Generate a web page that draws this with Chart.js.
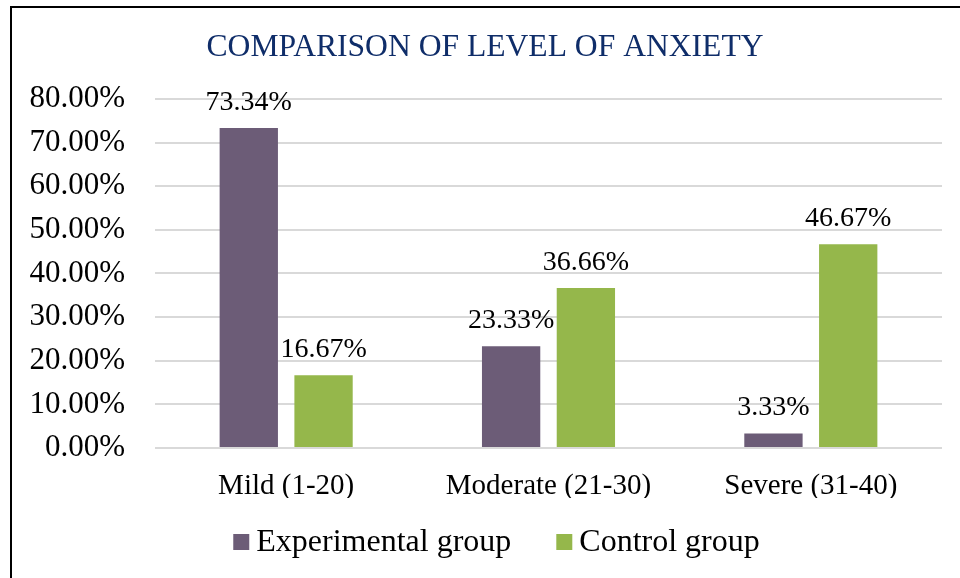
<!DOCTYPE html>
<html>
<head>
<meta charset="utf-8">
<script src="https://cdn.jsdelivr.net/npm/chart.js@4.4.0/dist/chart.umd.min.js"></script>
<style>
    html, body { margin: 0; padding: 0; background: #fff; }
    #frame {
        position: absolute;
        left: 10px; top: 6px;
        width: 950px; height: 572px;
        border-left: 2px solid #000;
        border-top: 2px solid #000;
    }
    #wrap { position: absolute; left: 13px; top: 9px; width: 947px; height: 569px; }
</style>
</head>
<body>
<div id="frame"></div>
<div id="wrap"><canvas id="anxChart"></canvas></div>
<script>
const categories = ["Mild (1-20)", "Moderate (21-30)", "Severe (31-40)"];
const experimentalValues = [73.34, 23.33, 3.33];
const controlValues = [16.67, 36.66, 46.67];
const seriesNames = ["Experimental group", "Control group"];
const chartTitle = "COMPARISON OF LEVEL OF ANXIETY";

const serif = "'Liberation Serif', 'Times New Roman', serif";

// value labels above each bar, placed from the bar elements
const barLabels = {
    id: "barLabels",
    afterDatasetsDraw(chart) {
        const ctx = chart.ctx;
        ctx.save();
        ctx.font = "28px " + serif;
        ctx.fillStyle = "#000";
        ctx.textAlign = "center";
        ctx.textBaseline = "alphabetic";
        chart.data.datasets.forEach(function (ds, i) {
            chart.getDatasetMeta(i).data.forEach(function (bar, j) {
                ctx.fillText(ds.data[j].toFixed(2) + "%", bar.x, bar.y - 18);
            });
        });
        ctx.restore();
    }
};

// legend drawn by hand: small square, short gap, then the name (like Excel)
const boxLegend = {
    id: "boxLegend",
    afterDraw(chart) {
        const ctx = chart.ctx;
        const box = 16, gap = 7, itemGap = 45;
        ctx.save();
        ctx.font = "32px " + serif;
        const items = chart.data.datasets.map(function (ds) {
            return { text: ds.label, color: ds.backgroundColor, w: ctx.measureText(ds.label).width };
        });
        let total = 0;
        items.forEach(function (it, i) { total += box + gap + it.w + (i ? itemGap : 0); });
        let x = chart.width / 2 + 10 - total / 2;
        const base = chart.chartArea.bottom + 103;
        ctx.textBaseline = "alphabetic";
        ctx.textAlign = "left";
        items.forEach(function (it) {
            ctx.fillStyle = it.color;
            ctx.fillRect(x, base - 17, box, box);
            ctx.fillStyle = "#000";
            ctx.fillText(it.text, x + box + gap, base);
            x += box + gap + it.w + itemGap;
        });
        ctx.restore();
    }
};

new Chart("anxChart", {
    type: "bar",
    data: {
        labels: categories,
        datasets: [{
            label: seriesNames[0],
            data: experimentalValues,
            backgroundColor: "#6C5C77"
        }, {
            label: seriesNames[1],
            data: controlValues,
            backgroundColor: "#95B74B"
        }]
    },
    options: {
        responsive: true,
        maintainAspectRatio: false,
        animation: false,
        categoryPercentage: 0.57,
        barPercentage: 0.78,
        layout: { padding: { left: 15, right: 18, top: 0, bottom: 80 } },
        plugins: {
            title: {
                display: true,
                text: chartTitle,
                color: "#0F2D69",
                font: { family: serif, size: 31.6, weight: "normal" },
                padding: { top: 20, bottom: 32 }
            },
            legend: { display: false },
            tooltip: { enabled: false }
        },
        scales: {
            x: {
                grid: { display: false },
                border: { display: false },
                afterFit: function (scale) { scale.height = 50; },
                ticks: {
                    color: "#000",
                    font: { family: serif, size: 29 },
                    padding: 13
                }
            },
            y: {
                min: 0,
                max: 80,
                grid: { color: "#D9D9D9", lineWidth: 2, drawTicks: false },
                border: { display: false },
                afterFit: function (scale) { scale.width = 127; },
                ticks: {
                    stepSize: 10,
                    color: "#000",
                    padding: 30,
                    font: { family: serif, size: 31 },
                    callback: function (v) { return v.toFixed(2) + "%"; }
                }
            }
        }
    },
    plugins: [barLabels, boxLegend]
});
</script>
</body>
</html>
